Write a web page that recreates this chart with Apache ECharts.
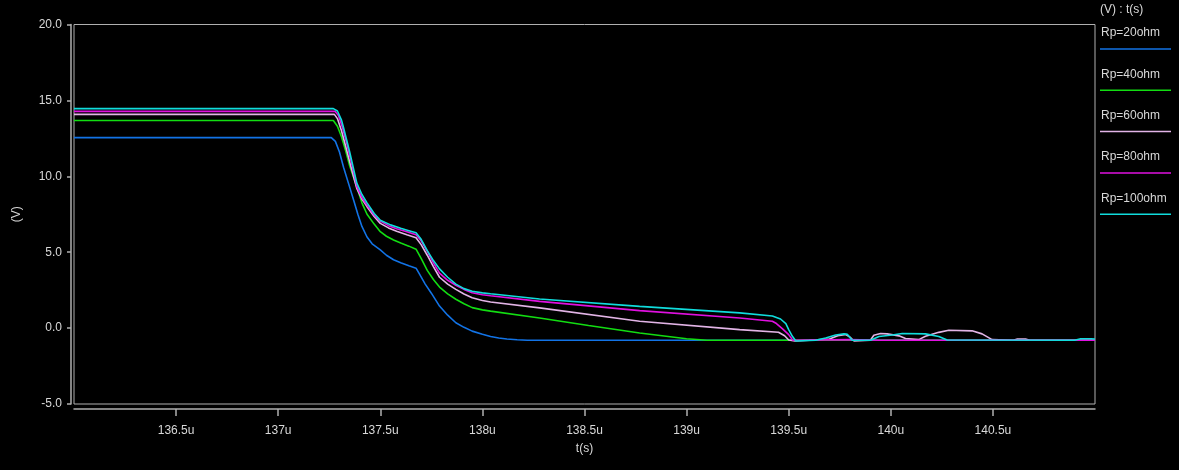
<!DOCTYPE html>
<html>
<head>
<meta charset="utf-8">
<title>Transient response vs Rp</title>
<script src="https://cdn.jsdelivr.net/npm/echarts@6/dist/echarts.min.js"></script>
<style>
  html, body { margin: 0; padding: 0; background: #000; }
  #chart { width: 1179px; height: 470px; }
</style>
</head>
<body>
<div id="chart"></div>
<script>
// Time axis in microseconds, voltage in volts.
const xTickValues = [136.5, 137, 137.5, 138, 138.5, 139, 139.5, 140, 140.5];
const xTickLabels = ['136.5u', '137u', '137.5u', '138u', '138.5u', '139u', '139.5u', '140u', '140.5u'];
const yTickLabels = ['-5.0', '0.0', '5.0', '10.0', '15.0', '20.0'];

const seriesNames = ['Rp=20ohm', 'Rp=40ohm', 'Rp=60ohm', 'Rp=80ohm', 'Rp=100ohm'];
const seriesColors = ['#1273e6', '#12dd12', '#e2b4e6', '#e010e0', '#10dcdc'];

const rp20 = [
  [136.0, 12.55], [137.26, 12.55], [137.28, 12.3], [137.30, 11.6], [137.32, 10.6],
  [137.345, 9.5], [137.37, 8.4], [137.39, 7.5], [137.41, 6.7], [137.435, 6.0],
  [137.46, 5.55], [137.50, 5.15], [137.53, 4.8], [137.565, 4.5], [137.60, 4.3],
  [137.64, 4.1], [137.675, 3.95], [137.69, 3.6], [137.72, 2.9], [137.75, 2.3],
  [137.79, 1.45], [137.83, 0.85], [137.87, 0.35], [137.91, 0.05], [137.95, -0.2],
  [138.0, -0.4], [138.04, -0.55], [138.08, -0.65], [138.12, -0.72], [138.17, -0.77],
  [138.22, -0.8], [141.0, -0.8]
];

const rp40 = [
  [136.0, 13.68], [137.27, 13.68], [137.29, 13.3], [137.31, 12.6], [137.33, 11.7],
  [137.35, 10.7], [137.38, 9.5], [137.41, 8.25], [137.435, 7.5], [137.47, 6.85],
  [137.50, 6.35], [137.53, 6.05], [137.565, 5.8], [137.60, 5.6], [137.64, 5.4],
  [137.675, 5.2], [137.70, 4.6], [137.73, 3.8], [137.76, 3.2], [137.79, 2.7],
  [137.83, 2.25], [137.87, 1.9], [137.91, 1.6], [137.95, 1.35], [138.0, 1.2],
  [138.04, 1.12], [138.28, 0.67], [138.52, 0.17], [138.77, -0.32], [139.0, -0.7],
  [139.1, -0.8], [141.0, -0.8]
];

const rp60 = [
  [136.0, 14.08], [137.275, 14.08], [137.29, 13.8], [137.31, 13.0], [137.33, 12.0],
  [137.355, 10.7], [137.385, 9.2], [137.41, 8.5], [137.435, 8.0], [137.47, 7.35],
  [137.50, 6.9], [137.54, 6.6], [137.58, 6.38], [137.63, 6.15], [137.675, 5.95],
  [137.70, 5.5], [137.73, 4.8], [137.76, 4.05], [137.79, 3.35], [137.83, 2.9],
  [137.87, 2.55], [137.91, 2.25], [137.95, 2.0], [138.0, 1.82], [138.04, 1.72],
  [138.28, 1.33], [138.77, 0.45], [139.26, -0.1], [139.45, -0.27], [139.48, -0.5],
  [139.50, -0.78], [139.53, -0.85], [139.60, -0.8], [139.70, -0.72], [139.74, -0.5],
  [139.78, -0.42], [139.80, -0.6], [139.82, -0.85], [139.90, -0.8], [139.917, -0.47],
  [139.95, -0.36], [139.982, -0.38], [140.04, -0.51], [140.072, -0.69], [140.137, -0.76],
  [140.17, -0.54], [140.235, -0.28], [140.284, -0.14], [140.398, -0.18], [140.447, -0.38],
  [140.496, -0.76], [140.60, -0.8], [140.62, -0.72], [140.66, -0.72], [140.68, -0.8],
  [141.0, -0.8]
];

const rp80 = [
  [136.0, 14.28], [137.278, 14.28], [137.295, 14.0], [137.315, 13.2], [137.335, 12.2],
  [137.36, 10.8], [137.385, 9.35], [137.41, 8.6], [137.435, 8.1], [137.47, 7.45],
  [137.50, 7.05], [137.54, 6.75], [137.58, 6.55], [137.63, 6.35], [137.675, 6.15],
  [137.70, 5.75], [137.73, 5.05], [137.76, 4.3], [137.79, 3.62], [137.83, 3.15],
  [137.87, 2.82], [137.91, 2.55], [137.95, 2.33], [138.0, 2.2], [138.04, 2.13],
  [138.28, 1.76], [138.77, 1.15], [139.26, 0.67], [139.42, 0.45], [139.44, 0.3],
  [139.47, -0.05], [139.50, -0.43], [139.52, -0.8], [139.80, -0.76], [139.95, -0.8],
  [141.0, -0.8]
];

const rp100 = [
  [136.0, 14.46], [137.27, 14.46], [137.29, 14.3], [137.31, 13.7], [137.32, 13.2],
  [137.35, 11.6], [137.385, 9.55], [137.41, 8.8], [137.435, 8.25], [137.47, 7.55],
  [137.50, 7.1], [137.55, 6.8], [137.60, 6.58], [137.64, 6.42], [137.675, 6.28],
  [137.70, 5.85], [137.73, 5.1], [137.76, 4.45], [137.79, 3.9], [137.83, 3.35],
  [137.87, 2.9], [137.91, 2.6], [137.95, 2.43], [138.0, 2.32], [138.04, 2.26],
  [138.28, 1.92], [138.77, 1.43], [139.26, 1.0], [139.42, 0.8], [139.46, 0.6],
  [139.486, 0.3], [139.50, -0.1], [139.518, -0.54], [139.535, -0.85], [139.632, -0.8],
  [139.681, -0.65], [139.73, -0.45], [139.771, -0.38], [139.787, -0.4], [139.811, -0.8],
  [139.901, -0.8], [139.942, -0.55], [140.007, -0.45], [140.056, -0.36], [140.17, -0.38],
  [140.235, -0.55], [140.276, -0.78], [140.90, -0.8], [140.93, -0.7], [140.98, -0.7],
  [141.0, -0.72]
];

const seriesData = [rp20, rp40, rp60, rp80, rp100];

const axisGray = '#b0b0b0';
const textGray = '#d8d8d8';
const fontFamily = '"Liberation Sans", Arial, sans-serif';

const chart = echarts.init(document.getElementById('chart'), null, { renderer: 'canvas' });

// Legend block on the right: header, then each name above a colour stroke.
const legendGraphics = [{
  type: 'text', left: 1100, top: 4,
  style: { text: '(V) : t(s)', fill: textGray, font: '12px ' + fontFamily }
}];
seriesNames.forEach((name, i) => {
  const lineY = 49 + i * 41.3;
  legendGraphics.push({
    type: 'text', left: 1101, top: lineY - 22,
    style: { text: name, fill: textGray, font: '12px ' + fontFamily }
  });
  legendGraphics.push({
    type: 'line',
    shape: { x1: 1100, y1: lineY, x2: 1171, y2: lineY },
    style: { stroke: seriesColors[i], lineWidth: 1.5 }
  });
});

chart.setOption({
  animation: false,
  backgroundColor: '#000',
  grid: {
    left: 74, right: 84, top: 24.5, bottom: 66,
    show: true, borderColor: axisGray, borderWidth: 1, backgroundColor: '#000'
  },
  xAxis: {
    type: 'value', min: 136, max: 141, interval: 0.5,
    position: 'bottom', offset: 5,
    name: 't(s)', nameLocation: 'middle', nameGap: 34,
    nameTextStyle: { color: textGray, fontSize: 12, fontFamily },
    axisLine: { show: true, onZero: false, lineStyle: { color: axisGray, width: 1.5 } },
    axisTick: { show: true, length: 7, lineStyle: { color: axisGray, width: 1.5 }, customValues: xTickValues },
    axisLabel: {
      color: textGray, fontSize: 12, fontFamily, margin: 16,
      customValues: xTickValues,
      formatter: v => {
        const i = xTickValues.findIndex(t => Math.abs(t - v) < 1e-6);
        return i >= 0 ? xTickLabels[i] : '';
      }
    },
    splitLine: { show: false }
  },
  yAxis: {
    type: 'value', min: -5, max: 20, interval: 5,
    position: 'left', offset: 3,
    name: '(V)', nameLocation: 'middle', nameGap: 48,
    nameTextStyle: { color: textGray, fontSize: 12, fontFamily },
    axisLine: { show: true, onZero: false, lineStyle: { color: axisGray, width: 1.5 } },
    axisTick: { show: true, length: 4, lineStyle: { color: axisGray, width: 1.5 } },
    axisLabel: {
      color: textGray, fontSize: 12, fontFamily, margin: 9,
      formatter: v => yTickLabels[Math.round((v + 5) / 5)]
    },
    splitLine: { show: false }
  },
  graphic: legendGraphics,
  series: seriesNames.map((name, i) => ({
    name, type: 'line', data: seriesData[i],
    showSymbol: false, symbol: 'none',
    lineStyle: { color: seriesColors[i], width: 1.6 },
    z: 2 + i
  }))
});
</script>
</body>
</html>
